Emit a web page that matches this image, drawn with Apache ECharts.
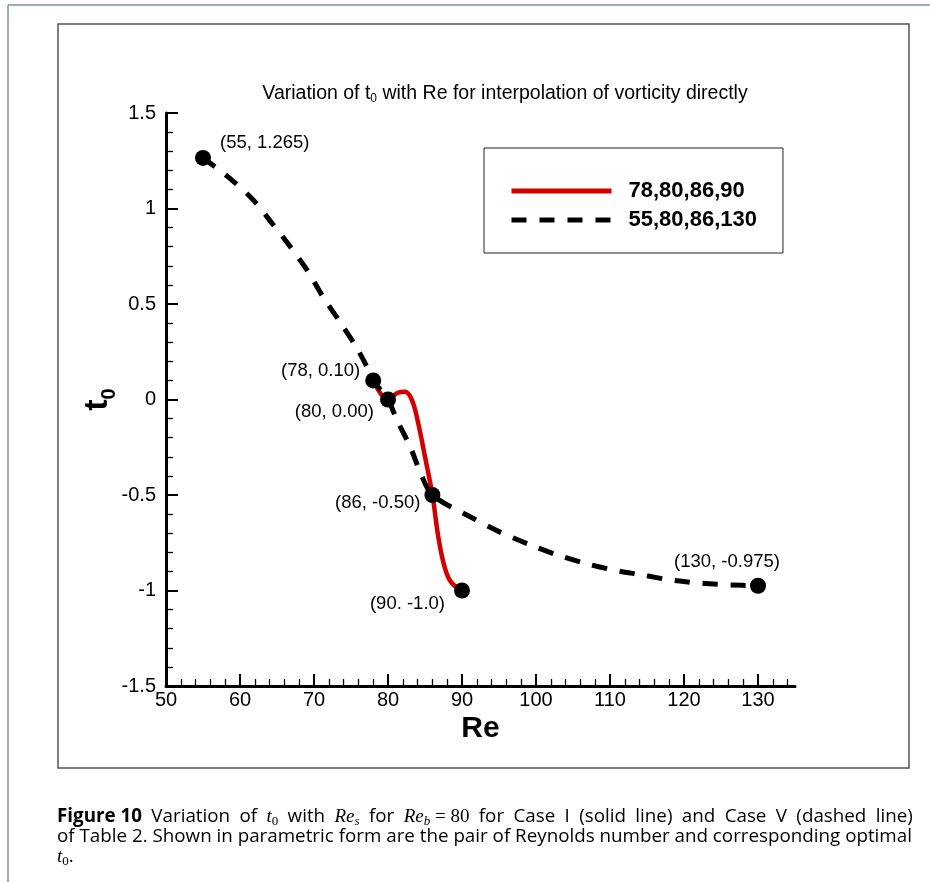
<!DOCTYPE html>
<html>
<head>
<meta charset="utf-8">
<script src="https://cdn.jsdelivr.net/npm/echarts@6/dist/echarts.min.js"></script>
<style>
html,body{margin:0;padding:0;background:#fff;}
#chart{width:930px;height:882px;}
</style>
</head>
<body>
<div id="chart"></div>
<script>
// ---- data ----
const reSolid  = [78, 80, 81.3, 82.3, 83.2, 84.0, 85.0, 86.0, 86.8, 87.6, 88.5, 90];
const t0Solid  = [0.10, 0.00, 0.035, 0.040, 0.00, -0.11, -0.30, -0.50, -0.72, -0.87, -0.955, -1.0];

const reDashed = [55, 58.9, 61.8, 64.3, 66.8, 69.2, 71.2, 73.5, 75.7, 76.9, 78, 80, 81.2, 83.0, 84.4, 86, 91.1, 95.4, 99.3, 102.9, 106.7, 110.5, 114.4, 118.2, 122.3, 126.3, 130];
const t0Dashed = [1.265, 1.149, 1.044, 0.924, 0.800, 0.669, 0.538, 0.407, 0.276, 0.19, 0.10, 0.00, -0.107, -0.247, -0.385, -0.50, -0.614, -0.699, -0.762, -0.814, -0.858, -0.893, -0.919, -0.945, -0.962, -0.971, -0.975];

const pointRe     = [55, 78, 80, 86, 90, 130];
const pointT0     = [1.265, 0.10, 0.00, -0.50, -1.0, -0.975];
const pointLabels = ['(55, 1.265)', '(78, 0.10)', '(80, 0.00)', '(86, -0.50)', '(90. -1.0)', '(130, -0.975)'];

const seriesNames = ['78,80,86,90', '55,80,86,130'];
const xMajorTicks = [50, 60, 70, 80, 90, 100, 110, 120, 130];
const xMinorTicks = [52, 54, 56, 58, 62, 64, 66, 68, 72, 74, 76, 78, 82, 84, 86, 88, 92, 94, 96, 98,
                     102, 104, 106, 108, 112, 114, 116, 118, 122, 124, 126, 128, 132, 134];

// ---- label placement (style only) ----
const labelPlacement = [
  {position: 'right', offset: [9, -15]},
  {position: 'left',  offset: [-5, -9]},
  {position: 'left',  offset: [-6, 12]},
  {position: 'left',  offset: [-4, 8]},
  {position: 'left',  offset: [-9, 13]},
  {position: 'top',   offset: [-31, -6]}
];

const FONT = "'Liberation Sans', Arial, Helvetica, sans-serif";
const CAPFONT = "'Open Sans', sans-serif";
const CAPSIZE = 18.8;
const zip = (a, b) => a.map((v, i) => [v, b[i]]);

const chart = echarts.init(document.getElementById('chart'), null, {renderer: 'canvas'});

const scatterData = pointRe.map((r, i) => ({
  value: [r, pointT0[i]],
  label: {position: labelPlacement[i].position, offset: labelPlacement[i].offset, distance: 0}
}));

const capRich = {
  b: {fontFamily: CAPFONT, fontWeight: 'bold', fontSize: CAPSIZE, lineHeight: 20, fill: '#000'},
  r: {fontFamily: CAPFONT, fontSize: CAPSIZE, lineHeight: 20, fill: '#000'},
  w: {fontFamily: CAPFONT, fontSize: CAPSIZE, lineHeight: 20, fill: '#000', padding: [0, 4.5, 0, 0]},
  m: {fontFamily: "'Liberation Serif', serif", fontStyle: 'italic', fontSize: 19, lineHeight: 20, fill: '#000'},
  s: {fontFamily: "'Liberation Serif', serif", fontSize: 13, lineHeight: 20, padding: [9, 0, 0, 0], fill: '#000'},
  si: {fontFamily: "'Liberation Serif', serif", fontStyle: 'italic', fontSize: 13, lineHeight: 20, padding: [9, 0, 0, 0], fill: '#000'},
  n: {fontFamily: "'Liberation Serif', serif", fontSize: 19, lineHeight: 20, fill: '#000'}
};
// line 1 of caption: plain words separated by widened spaces (justified look)
const cap1Words = ['Variation of', '{m|t}{s|0}', 'with', '{m|Re}{si|s}', 'for', '{m|Re}{si|b}{n| = 80}', 'for Case I (solid line) and Case V (dashed line)'];
const wrapPlain = s => s.startsWith('{') ? s : s.split(' ').map(x => '{r|' + x + '}').join('{w| }');
const cap1Text = '{b|Figure 10}{w| }' + cap1Words.map(wrapPlain).join('{w| }');

const option = {
  animation: false,
  backgroundColor: '#fff',
  title: {
    text: 'Variation of t{s|0} with Re for interpolation of vorticity directly',
    left: 500, top: 78, textAlign: 'center',
    textStyle: {fontFamily: FONT, fontSize: 19.5, fontWeight: 'normal', color: '#000', lineHeight: 22,
      rich: {s: {fontFamily: FONT, fontSize: 12, color: '#000', lineHeight: 22, padding: [9, 0, 0, 0]}}}
  },
  legend: {
    data: seriesNames,
    orient: 'vertical',
    left: 484, top: 148,
    padding: [32, 26, 22, 25],
    itemWidth: 100, itemHeight: 20, itemGap: 7,
    borderColor: '#222', borderWidth: 1,
    itemStyle: {opacity: 0, color: 'transparent', borderWidth: 0},
    lineStyle: {width: 5},
    textStyle: {fontFamily: FONT, fontSize: 22, fontWeight: 'bold', color: '#000', padding: [0, 0, 0, 12]}
  },
  grid: {left: 166, top: 113, width: 629, height: 573, outerBoundsMode: 'none', containLabel: false},
  xAxis: [{
    type: 'value', min: 50, max: 135,
    name: 'Re', nameLocation: 'middle', nameGap: 28, nameMoveOverlap: false,
    nameTextStyle: {fontFamily: FONT, fontSize: 30, fontWeight: 'bold', color: '#000'},
    axisLine: {show: true, onZero: false, lineStyle: {color: '#000', width: 3}},
    axisTick: {show: true, inside: true, length: 12, customValues: xMajorTicks, lineStyle: {color: '#000', width: 2}},
    axisLabel: {show: true, customValues: xMajorTicks, margin: 4, fontFamily: FONT, fontSize: 20, color: '#000'},
    splitLine: {show: false}
  }, {
    type: 'value', min: 50, max: 135, position: 'bottom', offset: 0,
    axisLine: {show: false, onZero: false},
    axisTick: {show: true, inside: true, length: 7, customValues: xMinorTicks, lineStyle: {color: '#000', width: 1.3}},
    axisLabel: {show: false},
    splitLine: {show: false}
  }],
  yAxis: {
    type: 'value', min: -1.5, max: 1.5, interval: 0.5,
    name: '{t|t}{s|0}', nameLocation: 'middle', nameGap: 48, nameMoveOverlap: false,
    nameTextStyle: {fontFamily: FONT, fontSize: 34, fontWeight: 'bold', color: '#000', lineHeight: 40,
      rich: {
        t: {fontFamily: FONT, fontSize: 34, fontWeight: 'bold', color: '#000', lineHeight: 40},
        s: {fontFamily: FONT, fontSize: 20, fontWeight: 'bold', color: '#000', lineHeight: 40, padding: [22, 0, 0, 0]}
      }},
    axisLine: {show: true, onZero: false, lineStyle: {color: '#000', width: 3}},
    axisTick: {show: true, inside: true, length: 12, lineStyle: {color: '#000', width: 2}},
    minorTick: {show: true, splitNumber: 5, length: 7, lineStyle: {color: '#000', width: 1.3}},
    axisLabel: {margin: 10, fontFamily: FONT, fontSize: 20, color: '#000'},
    splitLine: {show: false}
  },
  series: [{
    type: 'line', name: seriesNames[0],
    data: zip(reSolid, t0Solid),
    symbol: 'none', smooth: 0.4,
    lineStyle: {color: '#d40000', width: 4.5},
    itemStyle: {color: '#d40000'},
    z: 2
  }, {
    type: 'line', name: seriesNames[1],
    data: zip(reDashed, t0Dashed),
    symbol: 'none', smooth: 0.3,
    lineStyle: {color: '#000', width: 5, type: [15, 13]},
    itemStyle: {color: '#000'},
    z: 3
  }, {
    type: 'scatter',
    data: scatterData,
    symbol: 'circle', symbolSize: 16,
    itemStyle: {color: '#000', opacity: 1},
    label: {show: true, fontFamily: FONT, fontSize: 18.5, color: '#000',
      formatter: p => pointLabels[p.dataIndex]},
    z: 4
  }],
  graphic: [
    {type: 'line', shape: {x1: 8, y1: 5, x2: 930, y2: 5}, style: {stroke: '#7890a8', lineWidth: 1.5}, silent: true},
    {type: 'line', shape: {x1: 8, y1: 5, x2: 8, y2: 882}, style: {stroke: '#7890a8', lineWidth: 1.5}, silent: true},
    {type: 'rect', shape: {x: 58, y: 24, width: 851, height: 744}, style: {fill: 'none', stroke: '#555', lineWidth: 1.5}, silent: true, z: -1},
    {type: 'text', x: 57, y: 817, silent: true, style: {
      text: cap1Text,
      font: CAPSIZE + "px 'Open Sans', sans-serif", fill: '#000', verticalAlign: 'middle', lineHeight: 20, rich: capRich}},
    {type: 'text', x: 57, y: 837, silent: true, style: {
      text: 'of Table 2. Shown in parametric form are the pair of Reynolds number and corresponding optimal',
      font: CAPSIZE + "px 'Open Sans', sans-serif", fill: '#000', verticalAlign: 'middle'}},
    {type: 'text', x: 57, y: 857, silent: true, style: {
      text: '{m|t}{s|0}{r|.}',
      font: CAPSIZE + "px 'Open Sans', sans-serif", fill: '#000', verticalAlign: 'middle', lineHeight: 20, rich: capRich}}
  ]
};

chart.setOption(option);
</script>
</body>
</html>
